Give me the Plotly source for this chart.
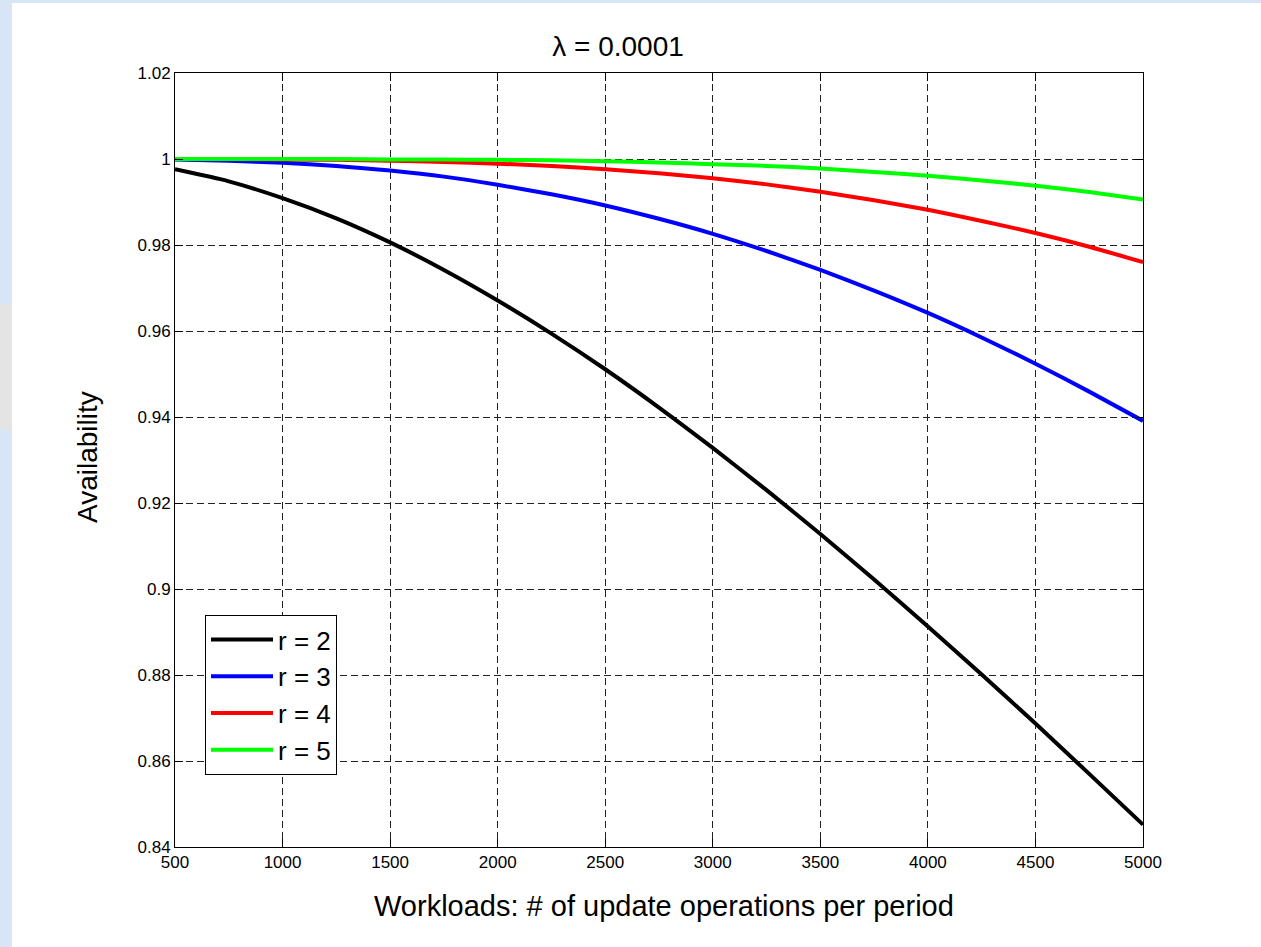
import plotly.graph_objects as go

# ---- data ----
workloads = [500, 750, 1000, 1250, 1500, 1750, 2000, 2250, 2500, 2750,
             3000, 3250, 3500, 3750, 4000, 4250, 4500, 4750, 5000]

avail_r2 = [0.9976, 0.9948, 0.9909, 0.9862, 0.9806, 0.9742, 0.9671, 0.9594, 0.9511, 0.9422,
            0.9328, 0.9230, 0.9128, 0.9022, 0.8913, 0.8801, 0.8687, 0.8570, 0.8452]
avail_r3 = [0.9999, 0.9996, 0.9991, 0.9984, 0.9973, 0.9959, 0.9940, 0.9918, 0.9892, 0.9861,
            0.9826, 0.9786, 0.9742, 0.9694, 0.9642, 0.9585, 0.9524, 0.9459, 0.9391]
avail_r4 = [1.0000, 1.0000, 0.9999, 0.9998, 0.9996, 0.9993, 0.9989, 0.9984, 0.9976, 0.9967,
            0.9955, 0.9941, 0.9924, 0.9904, 0.9882, 0.9856, 0.9828, 0.9796, 0.9760]
avail_r5 = [1.0000, 1.0000, 1.0000, 1.0000, 0.9999, 0.9999, 0.9998, 0.9997, 0.9995, 0.9992,
            0.9988, 0.9984, 0.9978, 0.9970, 0.9961, 0.9950, 0.9938, 0.9923, 0.9906]

series_names = ["r = 2", "r = 3", "r = 4", "r = 5"]
series_values = [avail_r2, avail_r3, avail_r4, avail_r5]
series_colors = ["#000000", "#0000ff", "#ff0000", "#00ff00"]

x_ticks = [500, 1000, 1500, 2000, 2500, 3000, 3500, 4000, 4500, 5000]
y_ticks = [0.84, 0.86, 0.88, 0.9, 0.92, 0.94, 0.96, 0.98, 1, 1.02]
y_tick_labels = ["0.84", "0.86", "0.88", "0.9", "0.92", "0.94", "0.96", "0.98", "1", "1.02"]

title_text = "λ = 0.0001"
x_title = "Workloads: # of update operations per period"
y_title = "Availability"

FONT = "Liberation Sans, Arial, Helvetica, sans-serif"

fig = go.Figure()
for name, vals, col in zip(series_names, series_values, series_colors):
    fig.add_trace(go.Scatter(
        x=workloads, y=vals, name=name, mode="lines",
        line=dict(color=col, width=4, shape="spline", smoothing=0.6),
    ))

W, H = 1261, 947
L, R, T, B = 175, 118, 73, 100
pw, ph = W - L - R, H - T - B


def px_x(p):
    return (p - L) / pw


def px_y(p):
    return (H - B - p) / ph


shapes = [
    # white sheet over the light-blue slide background
    dict(type="rect", xref="paper", yref="paper", layer="below",
         x0=px_x(12), x1=px_x(W + 5), y0=px_y(H + 5), y1=px_y(3),
         fillcolor="white", line=dict(width=0)),
    # grey strip at the left edge
    dict(type="rect", xref="paper", yref="paper", layer="below",
         x0=px_x(-5), x1=px_x(12), y0=px_y(430), y1=px_y(304),
         fillcolor="#e4e4e4", line=dict(width=0)),
]

axis_common = dict(
    showline=True, linecolor="black", linewidth=1, mirror="ticks",
    ticks="inside", ticklen=8, tickcolor="black", tickwidth=1,
    showgrid=True, gridcolor="#222222", gridwidth=1, griddash="7px,4px",
    zeroline=False, tickfont=dict(family=FONT, size=17, color="black"),
)

fig.update_layout(
    width=W, height=H,
    margin=dict(l=L, r=R, t=T, b=B, autoexpand=False),
    paper_bgcolor="#d8e5f5", plot_bgcolor="white",
    font=dict(family=FONT, color="black"),
    shapes=shapes,
    title=dict(text=title_text, x=px_x(618), xref="paper", xanchor="center",
               y=1 - 46 / H, yref="container", yanchor="middle",
               font=dict(family=FONT, size=28, color="black")),
    xaxis=dict(range=[500, 5000], tickvals=x_ticks, **axis_common),
    yaxis=dict(range=[0.84, 1.02], tickvals=y_ticks, ticktext=y_tick_labels, **axis_common),
    legend=dict(x=px_x(205), y=px_y(615), xanchor="left", yanchor="top",
                bgcolor="white", bordercolor="black", borderwidth=1,
                font=dict(family=FONT, size=26, color="black"),
                itemwidth=62),
    showlegend=True,
    annotations=[
        dict(text=x_title, xref="paper", yref="paper", x=px_x(664), y=px_y(906),
             xanchor="center", yanchor="middle", showarrow=False,
             font=dict(family=FONT, size=29, color="black")),
        dict(text=y_title, xref="paper", yref="paper", x=px_x(87), y=px_y(457),
             xanchor="center", yanchor="middle", showarrow=False, textangle=-90,
             font=dict(family=FONT, size=28, color="black")),
    ],
)

fig.write_html("out.html")
